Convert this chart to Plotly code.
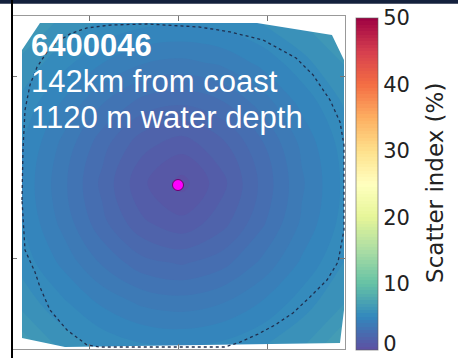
import plotly.graph_objects as go

# ---- data ----
station_label = "6400046"
line2 = "142km from coast"
line3 = "1120 m water depth"
cbar_title = "Scatter index (%)"

buoy_lon = [2.0]
buoy_lat = [60.401]

grid_lon = [0.247, 0.697, 1.146, 1.596, 2.045, 2.494, 2.944, 3.393, 3.865]
grid_lat_top_down = [61.291, 61.071, 60.852, 60.632, 60.412, 60.192, 59.972, 59.753, 59.511]

# scatter index (%) estimated at grid nodes, top row first
si_top_down = [
    [6.50, 5.88, 5.43, 5.14, 5.05, 5.18, 5.51, 5.99, 6.70],
    [5.86, 5.19, 4.51, 4.02, 3.86, 4.09, 4.64, 5.32, 6.02],
    [5.36, 4.46, 3.53, 2.81, 2.57, 2.93, 3.72, 4.66, 5.55],
    [5.04, 3.90, 2.72, 1.70, 1.27, 1.88, 2.95, 4.13, 5.23],
    [4.88, 3.67, 2.37, 1.11, 0.30, 1.33, 2.63, 3.92, 5.11],
    [5.01, 3.86, 2.66, 1.60, 1.16, 1.79, 2.90, 4.09, 5.21],
    [5.32, 4.39, 3.44, 2.69, 2.44, 2.81, 3.62, 4.60, 5.51],
    [5.80, 5.12, 4.41, 3.90, 3.74, 3.98, 4.54, 5.25, 5.97],
    [6.90, 5.86, 5.41, 5.11, 5.02, 5.16, 5.49, 5.97, 7.10],
]

# model domain outline (clockwise on the map)
domain_lon = [0.247, 0.449, 2.888, 3.730, 3.865, 3.865, 3.820, 0.730, 0.247, 0.247]
domain_lat = [61.143, 61.291, 61.291, 61.225, 61.088, 59.714, 59.533, 59.511, 59.560, 61.143]

# dotted distance ring
ring_lon = [0.247, 0.258, 0.281, 0.337, 0.416, 0.528, 0.640, 0.787, 0.978, 1.236, 1.652,
            2.247, 2.584, 2.955, 3.326, 3.517, 3.708, 3.820, 3.865, 3.865, 3.798, 3.674,
            3.483, 3.292, 3.090, 2.899, 2.697, 2.528, 1.124, 0.978, 0.753, 0.562, 0.449,
            0.393, 0.281, 0.247]
ring_lat = [60.319, 60.593, 60.813, 60.951, 61.049, 61.132, 61.187, 61.231, 61.264, 61.280, 61.286,
            61.269, 61.242, 61.198, 61.099, 61.006, 60.868, 60.747, 60.621, 60.154, 59.978, 59.879,
            59.786, 59.698, 59.632, 59.582, 59.538, 59.511, 59.511, 59.522, 59.604, 59.714, 59.841,
            59.923, 60.044, 60.319]

x_range = [0.1348, 3.8764]
y_range = [59.500, 61.3297]
# the "0" label is nudged up slightly so it stays inside the page
cbar_tickvals = [0.9, 10, 20, 30, 40, 50]
cbar_ticktext = ["0", "10", "20", "30", "40", "50"]

grid_lat = grid_lat_top_down[::-1]
si = si_top_down[::-1]

fig = go.Figure()

fig.add_trace(go.Contour(
    x=grid_lon, y=grid_lat, z=si,
    colorscale="Spectral_r", zmin=0, zmax=50,
    contours=dict(start=0, end=50, size=0.5, coloring="fill", showlines=False),
    line=dict(width=0),
    colorbar=dict(
        x=1.033, xanchor="left", xpad=0,
        y=-0.003, yanchor="bottom", ypad=0, len=0.997, lenmode="fraction",
        thickness=22, outlinewidth=1, outlinecolor="rgba(90,90,90,0.6)",
        tickvals=cbar_tickvals, ticktext=cbar_ticktext, ticks="", ticklabeloverflow="allow",
        tickfont=dict(family="DejaVu Sans", size=21, color="#222"),
    ),
    hoverinfo="skip",
))

# white mask outside the model domain (outer frame counter-clockwise + inner outline clockwise = hole)
xa0, xa1 = x_range[0] - 0.2, x_range[1] + 0.2
ya0, ya1 = y_range[0] - 0.2, y_range[1] + 0.2
mask_x = [xa0, xa1, xa1, xa0, xa0] + domain_lon + [xa0]
mask_y = [ya0, ya0, ya1, ya1, ya0] + domain_lat + [ya0]
fig.add_trace(go.Scatter(x=mask_x, y=mask_y, mode="lines", fill="toself",
                         fillcolor="white", line=dict(width=0, color="white"),
                         hoverinfo="skip", showlegend=False))

fig.add_trace(go.Scatter(x=ring_lon, y=ring_lat, mode="lines",
                         line=dict(color="#1f2f4f", width=1.3, dash="dot"),
                         hoverinfo="skip", showlegend=False))

fig.add_trace(go.Scatter(x=buoy_lon, y=buoy_lat, mode="markers",
                         marker=dict(size=11, color="#ff00ff", line=dict(width=1, color="#6a006a")),
                         hoverinfo="skip", showlegend=False))

ann_font = dict(family="Liberation Sans", size=31, color="white")
for txt, yp in [("<b>" + station_label + "</b>", 0.9129), (line2, 0.8048), (line3, 0.6952)]:
    fig.add_annotation(text=txt, xref="paper", yref="paper", x=0.051, y=yp,
                       xanchor="left", yanchor="middle", showarrow=False, font=ann_font)

fig.add_annotation(text=cbar_title, xref="paper", yref="paper", x=1.270, y=0.4985,
                   xanchor="center", yanchor="middle", textangle=-90, showarrow=False,
                   font=dict(family="DejaVu Sans", size=23, color="#222"))

fig.update_xaxes(range=x_range, showgrid=False, zeroline=False, showticklabels=False,
                 tickvals=[1, 2, 3], ticks="inside", ticklen=5, tickcolor="#777",
                 showline=True, linecolor="#999", linewidth=1, mirror="ticks")
fig.update_yaxes(range=y_range, showgrid=False, zeroline=False, showticklabels=False,
                 tickvals=[60, 61], ticks="inside", ticklen=5, tickcolor="#777",
                 showline=True, linecolor="#999", linewidth=1, mirror="ticks")

fig.add_shape(type="rect", xref="paper", yref="paper", x0=-0.05, x1=1.4, y0=1.037, y1=1.06,
              fillcolor="#14213d", line=dict(width=0), layer="above")
fig.add_shape(type="line", xref="paper", yref="paper", x0=0, x1=0, y0=-0.05, y1=1.05,
              line=dict(color="black", width=2), layer="above")

fig.update_layout(width=458, height=358,
                  margin=dict(l=12, r=113, t=16, b=9, autoexpand=False),
                  paper_bgcolor="white", plot_bgcolor="white", showlegend=False)

fig.write_html("out.html", config={"displayModeBar": False},
               post_script="document.body.style.margin='0px';document.body.style.padding='0px';")
